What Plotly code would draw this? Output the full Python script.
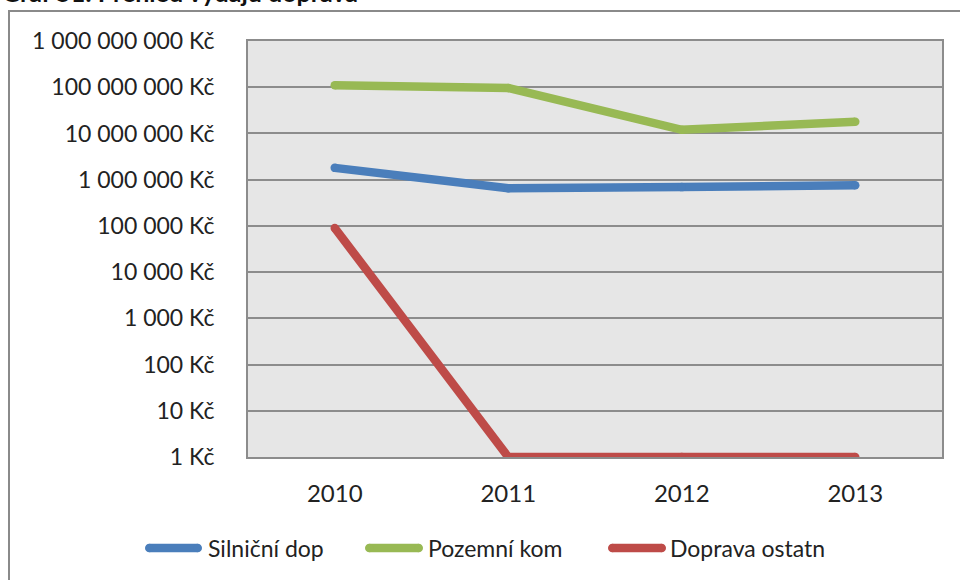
import plotly.graph_objects as go

# Roky a výdaje (Kč) za jednotlivé kategorie dopravy
years = ["2010", "2011", "2012", "2013"]
silnicni = [1.8e6, 6.5e5, 6.9e5, 7.6e5]
pozemni = [1.1e8, 9.6e7, 1.2e7, 1.8e7]
ostatni = [9.0e4, 1, 1, 1]

series_names = ["Silniční dop", "Pozemní kom", "Doprava ostatn"]
series_colors = ["#4a7ebb", "#98b954", "#be4b48"]

tick_values = [10 ** k for k in range(0, 10)]
tick_labels = ["1 Kč", "10 Kč", "100 Kč", "1 000 Kč", "10 000 Kč", "100 000 Kč",
               "1 000 000 Kč", "10 000 000 Kč", "100 000 000 Kč", "1 000 000 000 Kč"]

W, H = 960, 580
L, R, T, B = 248, 18, 41, 123
pw, ph = W - L - R, H - T - B


def px_x(x):
    """Pixel x -> paper x."""
    return (x - L) / pw


def px_y(y):
    """Pixel y (from top) -> paper y."""
    return (H - B - y) / ph


fig = go.Figure()
for name, vals, col in zip(series_names, [silnicni, pozemni, ostatni], series_colors):
    fig.add_trace(go.Scatter(
        x=years, y=vals, name=name, mode="lines+markers",
        line=dict(color=col, width=8.5),
        marker=dict(color=col, size=8.5, line=dict(width=0)),
        showlegend=False,
    ))

font_family = "Lato, 'Open Sans', sans-serif"
txt_color = "#222222"

fig.update_layout(
    width=W, height=H,
    margin=dict(l=L, r=R, t=T, b=B, pad=0),
    paper_bgcolor="white",
    plot_bgcolor="#e6e6e6",
    font=dict(family=font_family, size=23, color=txt_color),
    showlegend=False,
    xaxis=dict(
        type="category", range=[-0.5, 3.5],
        showgrid=False, zeroline=False,
        showline=True, linecolor="#8c8c8c", linewidth=2, mirror=True,
        ticks="", ticklabelstandoff=14,
        tickfont=dict(size=24, color=txt_color),
    ),
    yaxis=dict(
        type="log", range=[0, 9],
        tickvals=tick_values, ticktext=tick_labels,
        showgrid=True, gridcolor="#8c8c8c", gridwidth=1.5,
        zeroline=False,
        showline=True, linecolor="#8c8c8c", linewidth=2, mirror=True,
        ticks="", ticklabelstandoff=27,
        tickfont=dict(size=23, color=txt_color),
    ),
)

# Vnější rámeček grafu
fig.add_shape(
    type="rect", xref="paper", yref="paper", layer="below",
    x0=px_x(9), x1=px_x(W + 10), y0=px_y(H + 10), y1=px_y(11),
    line=dict(color="#8a8a8a", width=2), fillcolor="rgba(0,0,0,0)",
)

# Legenda: čára se zaoblenými konci a popisek
legend_items = [(145, 202, 206), (365, 423, 426), (608, 666, 668)]
legend_y = 548
r = 4.25
for (x0, x1, tx), name, col in zip(legend_items, series_names, series_colors):
    fig.add_shape(
        type="line", xref="paper", yref="paper",
        x0=px_x(x0 + r), x1=px_x(x1 - r), y0=px_y(legend_y), y1=px_y(legend_y),
        line=dict(color=col, width=2 * r),
    )
    for cx in (x0 + r, x1 - r):
        fig.add_shape(
            type="circle", xref="paper", yref="paper",
            x0=px_x(cx - r), x1=px_x(cx + r),
            y0=px_y(legend_y + r), y1=px_y(legend_y - r),
            line=dict(width=0), fillcolor=col,
        )
    fig.add_annotation(
        text=name, xref="paper", yref="paper",
        x=px_x(tx), xanchor="left", y=px_y(legend_y), yanchor="middle",
        showarrow=False, font=dict(family=font_family, size=23, color=txt_color),
    )

# Nadpis grafu
fig.add_annotation(
    text="<b>Graf 51: Přehled výdajů doprava</b>",
    xref="paper", yref="paper",
    x=px_x(0), xanchor="left",
    y=px_y(9), yanchor="bottom",
    showarrow=False,
    font=dict(family=font_family, size=25, color="#111111"),
)

fig.write_html("out.html")
